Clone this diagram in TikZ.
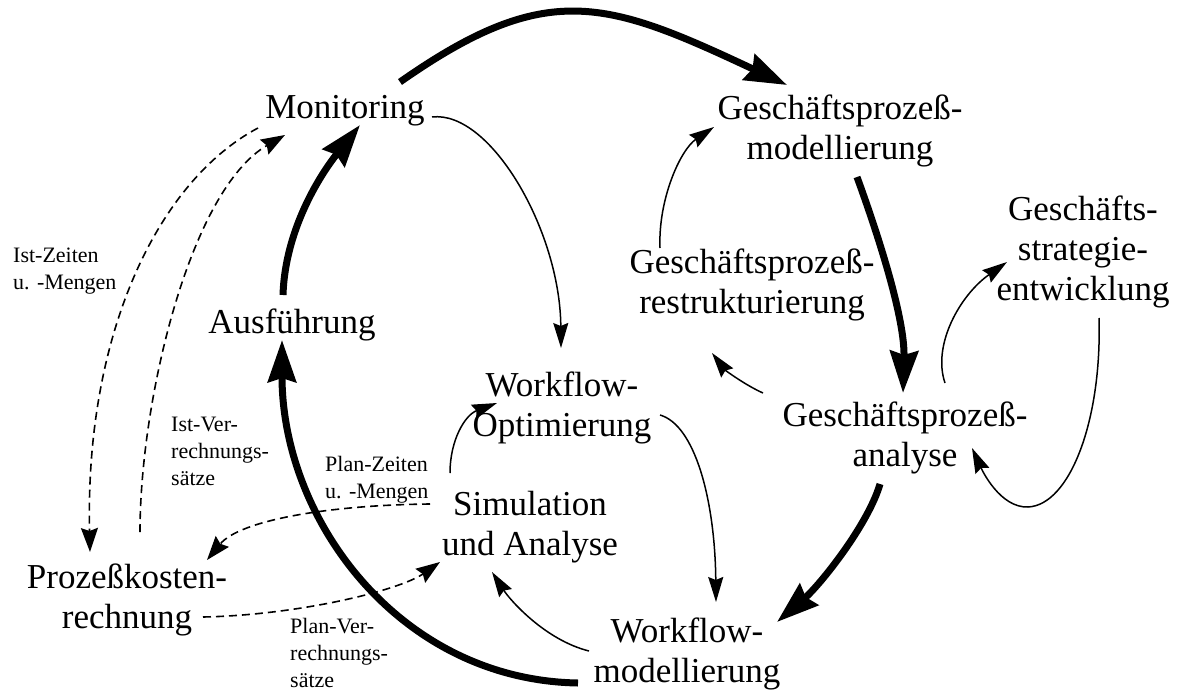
\documentclass[tikz,border=0pt]{standalone}
\usepackage{fontspec}
\setmainfont{Liberation Serif}
\usetikzlibrary{arrows.meta}
\begin{document}
\begin{tikzpicture}[x=1pt,y=-1pt,
  lbl/.style={inner sep=0pt,align=center,font=\fontsize{35}{40}\selectfont},
  small/.style={inner sep=0pt,align=left,anchor=west,font=\fontsize{22}{27}\selectfont},
  thick arrow/.style={line width=7pt,-{Stealth[length=42pt,width=28pt,inset=4pt]}},
  thin arrow/.style={line width=1.5pt,-{Stealth[length=25pt,width=15pt,inset=3pt]}},
  dash arrow/.style={line width=1.6pt,dash pattern=on 8pt off 5pt,-{Stealth[length=24pt,width=17pt,inset=3pt]}},
  dash line/.style={line width=1.6pt,dash pattern=on 8pt off 5pt}]
\useasboundingbox (0,0) rectangle (1177,693);

\node[lbl] (mon) at (345,111) {Monitoring};
\node[lbl] (gpm) at (840,131) {Geschäftsprozeß-\\modellierung};
\node[lbl] (gpr) at (752,285) {Geschäftsprozeß-\\restrukturierung};
\node[lbl] (gse) at (1083,252) {Geschäfts-\\strategie-\\entwicklung};
\node[lbl] (aus) at (292,325) {Ausführung};
\node[lbl] (wfo) at (562,408) {Workflow-\\Optimierung};
\node[lbl] (gpa) at (905,438) {Geschäftsprozeß-\\analyse};
\node[lbl] (sim) at (530,527) {Simulation\\und Analyse};
\node[lbl] (pkr) at (127,600) {Prozeßkosten-\\rechnung};
\node[lbl] (wfm) at (687,654) {Workflow-\\modellierung};

\node[small] (ist) at (13,271) {Ist-Zeiten\\u. -Mengen};
\node[small] (isv) at (171,451) {Ist-Ver-\\rechnungs-\\sätze};
\node[small] (plz) at (325,480) {Plan-Zeiten\\u. -Mengen};
\node[small] (plv) at (290,653) {Plan-Ver-\\rechnungs-\\sätze};

% thick main cycle
\draw[thick arrow] ([shift={(55,-29)}]mon.center) .. controls +(147,-103) and +(-181,-85) .. ([shift={(-53,-46)}]gpm.center);
\draw[thick arrow] ([shift={(17,46)}]gpm.center) .. controls +(23,63) and +(2,-73) .. ([shift={(-2,-45)}]gpa.center);
\draw[thick arrow] ([shift={(-25,46)}]gpa.center) .. controls +(-12,41) and +(43,-37) .. ([shift={(90,-32)}]wfm.center);
\draw[thick arrow] ([shift={(-109,29)}]wfm.center) .. controls +(-178,-3) and +(0,180) .. ([shift={(-10,15)}]aus.center);
\draw[thick arrow] ([shift={(-9,-30)}]aus.center) .. controls +(2,-65) and +(-40,50) .. ([shift={(15,14)}]mon.center);

% thin arrows
\draw[thin arrow] ([shift={(87,6)}]mon.center) .. controls +(58,-7) and +(-1,-118) .. ([shift={(-1,-60)}]wfo.center);
\draw[thin arrow] ([shift={(-80,-54)}]sim.center) .. controls +(0,-33) and +(-32,12) .. ([shift={(-65,-5)}]wfo.center);
\draw[thin arrow] ([shift={(98,7)}]wfo.center) .. controls +(35,10) and +(-1,-102) .. ([shift={(29,-52)}]wfm.center);
\draw[thin arrow] ([shift={(-98,-3)}]wfm.center) .. controls +(-44,-11) and +(18,28) .. ([shift={(-38,45)}]sim.center);
\draw[thin arrow] ([shift={(-142,-45)}]gpa.center) .. controls +(-18,-8) and +(13,17) .. ([shift={(-40,68)}]gpr.center);
\draw[thin arrow] ([shift={(-92,-37)}]gpr.center) .. controls +(-2,-48) and +(-34,23) .. ([shift={(-126,-4)}]gpm.center);
\draw[thin arrow] ([shift={(40,-55)}]gpa.center) .. controls +(-13,-38) and +(-47,33) .. ([shift={(-76,10)}]gse.center);
\coordinate (loop) at (1028,507);
\draw[thin arrow] ([shift={(16,66)}]gse.center) .. controls +(3,102) and +(42,-2) .. (loop) .. controls +(-28,1) and +(10,22) .. ([shift={(67,10)}]gpa.center);

% dashed arrows
\draw[dash arrow] ([shift={(-87,17)}]mon.center) .. controls +(-98,52) and +(-5,-222) .. ([shift={(-37,-48)}]pkr.center);
\draw[dash arrow] ([shift={(13,-68)}]pkr.center) .. controls +(0,-132) and +(-95,55) .. ([shift={(-60,24)}]mon.center);
\draw[dash arrow] ([shift={(-100,-23)}]sim.center) .. controls +(-100,1) and +(33,-40) .. ([shift={(80,-40)}]pkr.center);
\draw[dash arrow] ([shift={(76,17)}]pkr.center) .. controls +(97,-2) and +(-40,28) .. ([shift={(-90,35)}]sim.center);
\end{tikzpicture}
\end{document}
